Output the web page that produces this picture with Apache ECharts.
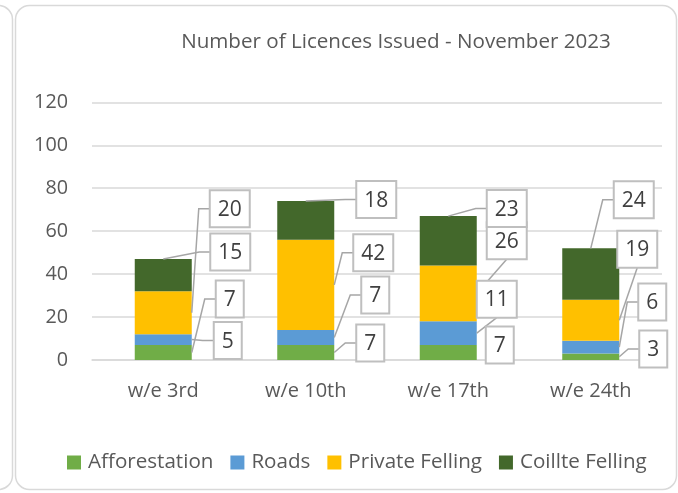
<!DOCTYPE html>
<html>
<head>
<meta charset="utf-8">
<script src="https://cdn.jsdelivr.net/npm/echarts@6/dist/echarts.min.js"></script>
<style>
html,body{margin:0;padding:0;background:#fff;}
#c{width:678px;height:493px;}
</style>
</head>
<body>
<div id="c"></div>
<script>
// ---- data ----
const categories = ['w/e 3rd', 'w/e 10th', 'w/e 17th', 'w/e 24th'];
const seriesNames = ['Afforestation', 'Roads', 'Private Felling', 'Coillte Felling'];
const afforestation = [7, 7, 7, 3];
const roads = [5, 7, 11, 6];
const privateFelling = [20, 42, 26, 19];
const coillteFelling = [15, 18, 23, 24];
const yTickMin = 0, yTickMax = 120, yTickStep = 20;

// ---- styles / layout ----
const colors = ['#70ad47', '#5b9bd5', '#ffc000', '#43682b'];
const FONT = '"Open Sans", "Noto Sans", sans-serif';
// callout box offsets from anchor [dx, dy, attach]  (L = left side with stub, B = bottom, N = none)
const calloutLayout = [
  [[38, -53.5, 'L'], [36, 1, 'L'], [38, -104, 'L'], [67, -7, 'L']],
  [[36, -9.5, 'L'], [41, -42.5, 'L'], [39, -32, 'L'], [70.5, -1.5, 'L']],
  [[23, -7.5, 'N'], [20, -34, 'B'], [30, -52.6, 'B'], [58.5, -7.5, 'L']],
  [[34, -7.8, 'L'], [33, -45, 'L'], [18, -71, 'B'], [43, -48.6, 'L']]
];
const barWidthRatio = 0.4;

const allSeries = [afforestation, roads, privateFelling, coillteFelling];

const chart = echarts.init(document.getElementById('c'), null, {renderer: 'canvas'});

const option = {
  animation: false,
  backgroundColor: '#fff',
  title: {
    text: 'Number of Licences Issued - November 2023',
    left: 391,
    textAlign: 'center',
    top: 27,
    textStyle: {fontFamily: FONT, fontSize: 20.6, fontWeight: 'normal', color: '#595959'}
  },
  grid: {left: 92, right: 16, top: 102.3, bottom: 133, containLabel: false},
  legend: {
    data: seriesNames,
    left: 62,
    top: 447,
    itemWidth: 14,
    itemHeight: 14,
    itemGap: 17,
    icon: 'rect',
    textStyle: {fontFamily: FONT, fontSize: 20.6, color: '#595959', padding: [0, 0, 0, 2]}
  },
  xAxis: {
    type: 'category',
    data: categories,
    axisLine: {show: true, lineStyle: {color: '#d9d9d9', width: 1.5}},
    axisTick: {show: false},
    axisLabel: {fontFamily: FONT, fontSize: 20, color: '#595959', margin: 21}
  },
  yAxis: {
    type: 'value',
    min: yTickMin,
    max: yTickMax,
    interval: yTickStep,
    axisLine: {show: false},
    axisTick: {show: false},
    splitLine: {lineStyle: {color: '#d9d9d9', width: 1.5}},
    axisLabel: {fontFamily: FONT, fontSize: 19.8, color: '#595959', margin: 24}
  },
  series: seriesNames.map((n, i) => ({
    name: n,
    type: 'bar',
    stack: 'total',
    barWidth: (barWidthRatio * 100) + '%',
    data: allSeries[i],
    itemStyle: {color: colors[i]}
  }))
};
chart.setOption(option);

// ---- callouts ----
const graphics = [];
// panel borders
graphics.push({type: 'rect', z: -10, silent: true,
  shape: {x: 15.5, y: 5.5, width: 661, height: 484, r: 14},
  style: {fill: 'none', stroke: '#d9d9d9', lineWidth: 1.5}});
graphics.push({type: 'rect', z: -10, silent: true,
  shape: {x: -600, y: 5.5, width: 612.5, height: 484, r: 14},
  style: {fill: 'none', stroke: '#d9d9d9', lineWidth: 1.5}});

const p0 = chart.convertToPixel({gridIndex: 0}, [0, 0]);
const p1 = chart.convertToPixel({gridIndex: 0}, [1, 0]);
const band = p1[0] - p0[0];
const halfBar = band * barWidthRatio / 2;

for (let c = 0; c < categories.length; c++) {
  let cum = 0;
  for (let s = 0; s < allSeries.length; s++) {
    const v = allSeries[s][c];
    const isTop = s === allSeries.length - 1;
    let anchor;
    const cx = chart.convertToPixel({gridIndex: 0}, [c, 0])[0];
    if (isTop) {
      anchor = [cx, chart.convertToPixel({gridIndex: 0}, [c, cum + v])[1]];
    } else {
      anchor = [cx + halfBar, chart.convertToPixel({gridIndex: 0}, [c, cum + v / 2])[1]];
    }
    cum += v;
    const lay = calloutLayout[c][s];
    const txt = String(v);
    const w = txt.length > 1 ? 40 : 28;
    const h = 37;
    const bx = anchor[0] + lay[0], by = anchor[1] + lay[1];
    const left = bx - w / 2, top = by - h / 2;
    let pts = null;
    if (lay[2] === 'L') pts = [anchor, [left - 11, by], [left, by]];
    else if (lay[2] === 'B') pts = [anchor, [bx, top + h]];
    if (pts) {
      graphics.push({type: 'polyline', z: 20, silent: true,
        shape: {points: pts},
        style: {fill: 'none', stroke: '#a6a6a6', lineWidth: 1.5}});
    }
    graphics.push({type: 'rect', z: 21, silent: true,
      shape: {x: left, y: top, width: w, height: h},
      style: {fill: '#ffffff', stroke: '#bfbfbf', lineWidth: 2}});
    graphics.push({type: 'text', z: 22, silent: true,
      style: {text: txt, x: bx, y: by + 1, fill: '#404040', font: '21px ' + FONT,
        textAlign: 'center', textVerticalAlign: 'middle'}});
  }
}
chart.setOption({graphic: graphics});
</script>
</body>
</html>
